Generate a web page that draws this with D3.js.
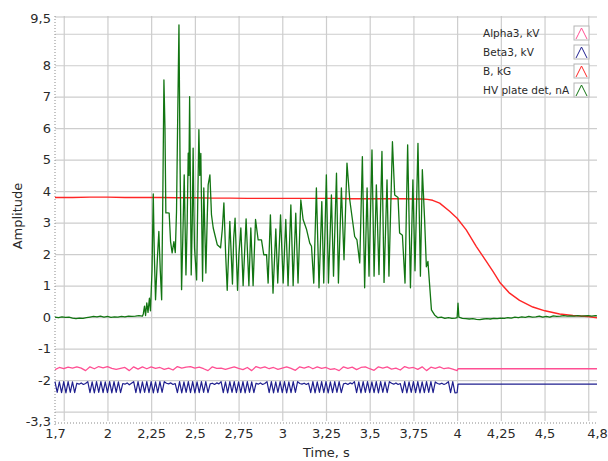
<!DOCTYPE html>
<html>
<head>
<meta charset="utf-8">
<script src="https://cdn.jsdelivr.net/npm/d3@7"></script>
<style>
  body { margin: 0; background: #fff; }
  text { font-family: "DejaVu Sans", Verdana, sans-serif; fill: #2a2a2a; }
</style>
</head>
<body>
<svg id="chart" width="608" height="461"></svg>
<script>

// axis labels and grid positions
const xTickLabels = [1.7, 2, 2.25, 2.5, 2.75, 3, 3.25, 3.5, 3.75, 4, 4.25, 4.5, 4.8];
const xGrid = [1.75, 2, 2.25, 2.5, 2.75, 3, 3.25, 3.5, 3.75, 4, 4.25, 4.5, 4.75];
const yTickLabels = [9.5, 8, 7, 6, 5, 4, 3, 2, 1, 0, -1, -2, -3.3];
const yGrid = [9, 8, 7, 6, 5, 4, 3, 2, 1, 0, -1, -2, -3];

const seriesNames = ['Alpha3, kV', 'Beta3, kV', 'B, kG', 'HV plate det, nA'];

// Alpha3, sampled every 0.025 s from 1.7 s to 4.0 s
const alphaStart = 1.7, alphaStep = 0.025;
const alphaVals = [
  -1.67,-1.60,-1.64,-1.59,-1.62,-1.58,-1.62,-1.70,-1.58,-1.64,
  -1.57,-1.61,-1.57,-1.63,-1.66,-1.63,-1.60,-1.70,-1.58,-1.65,
  -1.58,-1.64,-1.58,-1.63,-1.60,-1.66,-1.62,-1.68,-1.57,-1.62,
  -1.59,-1.57,-1.62,-1.59,-1.64,-1.70,-1.58,-1.63,-1.62,-1.66,
  -1.62,-1.58,-1.63,-1.67,-1.60,-1.70,-1.57,-1.62,-1.58,-1.64,
  -1.60,-1.66,-1.62,-1.58,-1.63,-1.69,-1.58,-1.62,-1.57,-1.64,
  -1.58,-1.63,-1.60,-1.66,-1.64,-1.70,-1.58,-1.63,-1.59,-1.67,
  -1.60,-1.58,-1.64,-1.69,-1.58,-1.62,-1.58,-1.65,-1.62,-1.68,
  -1.57,-1.62,-1.60,-1.66,-1.58,-1.70,-1.59,-1.63,-1.58,-1.64,
  -1.61,-1.65,-1.70
];
const alphaTail = [[4.005, -1.64], [4.8, -1.64]];

// Beta3, sampled every 0.0125 s from 1.7 s to 4.0 s
const betaStart = 1.7, betaStep = 0.0125;
const betaVals = [
  -2.05,-2.39,-2.06,-2.40,-2.05,-2.41,-2.05,-2.39,-2.06,-2.40,
  -2.10,-2.13,-2.09,-2.14,-2.11,
  -2.05,-2.40,-2.06,-2.41,-2.05,-2.39,-2.05,-2.40,-2.06,-2.40,-2.05,-2.41,-2.05,-2.39,-2.06,-2.40,
  -2.11,-2.13,-2.09,-2.15,-2.10,
  -2.05,-2.40,-2.05,-2.41,-2.06,-2.39,-2.05,-2.40,-2.05,-2.41,-2.06,-2.40,-2.05,-2.39,-2.05,
  -2.10,-2.12,-2.09,-2.14,-2.11,
  -2.40,-2.05,-2.41,-2.06,-2.39,-2.05,-2.40,-2.05,-2.41,-2.06,-2.40,-2.05,-2.39,-2.05,-2.40,
  -2.12,-2.10,-2.14,-2.09,-2.12,
  -2.05,-2.40,-2.06,-2.41,-2.05,-2.39,-2.05,-2.40,-2.06,-2.40,-2.05,-2.41,-2.05,-2.39,-2.06,-2.40,
  -2.10,-2.13,-2.09,-2.14,-2.11,
  -2.05,-2.40,-2.05,-2.41,-2.06,-2.39,-2.05,-2.40,-2.05,-2.41,-2.06,-2.40,-2.05,-2.39,-2.05,
  -2.11,-2.13,-2.10,-2.14,-2.10,
  -2.40,-2.05,-2.41,-2.06,-2.39,-2.05,-2.40,-2.05,-2.41,-2.06,-2.40,-2.05,-2.39,-2.05,-2.40,
  -2.12,-2.10,-2.14,-2.09,-2.12,
  -2.05,-2.40,-2.06,-2.41,-2.05,-2.39,-2.05,-2.40,-2.06,-2.40,-2.05,-2.41,-2.05,-2.39,-2.06,-2.40,-2.05,
  -2.10,-2.13,-2.09,-2.14,-2.11,
  -2.40,-2.05,-2.41,-2.06,-2.39,-2.05,-2.40,-2.05,-2.41,-2.06,-2.40,-2.05,-2.39,-2.05,-2.40,-2.06,
  -2.11,-2.13,-2.10,-2.14,-2.11,
  -2.05,-2.40,-2.05,-2.41,-2.40
];
const betaTail = [[4.005, -2.13], [4.8, -2.13]];

// B field [time, value]
const bPts = [
  [1.7,3.80],[1.8,3.80],[1.9,3.81],[2.0,3.81],[2.1,3.80],[2.2,3.80],[2.3,3.80],
  [2.4,3.79],[2.5,3.79],[2.6,3.78],[2.7,3.78],[2.8,3.77],[2.9,3.77],[3.0,3.77],
  [3.1,3.77],[3.2,3.77],[3.3,3.77],[3.4,3.76],[3.5,3.76],[3.6,3.76],[3.7,3.76],
  [3.75,3.75],[3.8,3.75],[3.83,3.74],[3.86,3.71],[3.9,3.62],[3.957,3.36],
  [4.0,3.14],[4.052,2.77],[4.11,2.24],[4.167,1.77],[4.205,1.45],[4.247,1.08],
  [4.3,0.76],[4.357,0.53],[4.433,0.32],[4.502,0.20],[4.586,0.10],[4.662,0.05],
  [4.748,0.02],[4.8,-0.02]
];

// HV plate detector current [time, value]
const hvPts = [
  [1.70,0.00],[1.72,-0.02],[1.74,0.01],[1.76,-0.01],[1.78,0.00],[1.80,-0.03],[1.82,-0.05],
  [1.84,-0.03],[1.86,-0.04],[1.88,-0.02],[1.90,0.00],[1.92,0.02],[1.94,0.01],[1.96,0.03],
  [1.98,0.00],[2.00,0.02],[2.02,-0.01],[2.04,0.01],[2.06,0.00],[2.08,0.02],[2.10,0.01],
  [2.12,0.03],[2.14,0.02],[2.16,0.03],[2.18,0.05],[2.20,0.03],
  [2.205,0.10],[2.212,0.35],[2.218,0.05],[2.225,0.45],[2.232,0.15],[2.24,0.60],[2.246,0.20],
  [2.255,1.50],[2.262,3.91],[2.268,2.00],[2.275,0.55],[2.285,1.80],[2.294,2.72],[2.302,1.50],
  [2.31,0.55],[2.317,4.00],[2.323,7.53],[2.329,6.00],[2.334,3.31],[2.345,3.31],[2.353,3.30],
  [2.361,2.40],[2.37,2.04],[2.38,2.40],[2.388,2.05],[2.395,3.35],[2.401,6.00],[2.409,9.28],
  [2.415,5.00],[2.424,0.87],[2.431,2.50],[2.439,4.52],[2.449,1.34],[2.456,3.00],[2.462,5.21],
  [2.466,4.50],[2.47,7.00],[2.475,4.00],[2.479,1.34],[2.485,3.00],[2.49,5.37],[2.494,3.50],
  [2.498,2.20],[2.51,1.18],[2.516,3.50],[2.523,5.95],[2.528,4.50],[2.534,5.20],[2.544,1.14],
  [2.551,4.10],[2.563,1.40],[2.57,3.00],[2.576,4.20],[2.586,4.52],[2.595,3.25],[2.605,2.83],
  [2.615,2.60],[2.628,2.30],[2.647,2.20],[2.657,2.80],[2.666,3.63],[2.676,2.00],[2.685,0.85],
  [2.70,3.04],[2.715,1.05],[2.722,2.50],[2.73,3.14],[2.744,0.85],[2.752,2.00],[2.763,2.83],
  [2.776,1.00],[2.793,3.12],[2.809,1.00],[2.82,2.83],[2.833,1.00],[2.847,3.10],[2.862,2.45],
  [2.881,2.45],[2.894,1.98],[2.91,1.98],[2.919,1.08],[2.932,3.25],[2.947,0.76],[2.963,2.80],
  [2.974,1.08],[2.99,3.25],[3.005,1.08],[3.02,3.10],[3.033,1.00],[3.049,3.56],[3.062,1.00],
  [3.077,3.30],[3.09,1.08],[3.106,3.72],[3.119,3.10],[3.138,2.80],[3.157,2.35],[3.167,2.25],
  [3.18,1.08],[3.195,4.10],[3.21,0.93],[3.226,3.67],[3.237,1.08],[3.252,4.52],[3.264,1.08],
  [3.281,3.88],[3.293,1.30],[3.31,4.57],[3.321,1.08],[3.338,4.10],[3.353,1.82],[3.37,4.89],
  [3.386,3.72],[3.414,2.56],[3.427,2.45],[3.443,1.72],[3.458,5.10],[3.471,0.93],[3.485,4.10],
  [3.496,1.30],[3.513,5.31],[3.525,1.30],[3.538,4.20],[3.553,1.35],[3.57,5.26],[3.582,1.10],
  [3.599,4.36],[3.61,1.30],[3.63,5.57],[3.643,3.88],[3.662,3.80],[3.671,2.67],[3.687,2.60],
  [3.702,1.08],[3.717,5.47],[3.733,0.93],[3.747,4.36],[3.759,1.47],[3.776,5.52],[3.79,1.30],
  [3.801,4.68],[3.814,3.09],[3.824,1.60],[3.833,1.77],[3.843,1.00],[3.853,0.23],[3.871,0.07],
  [3.89,-0.02],[3.91,0.00],[3.93,-0.04],[3.95,-0.02],[3.97,-0.04],[3.99,-0.03],[4.00,-0.02],
  [4.005,0.44],[4.01,0.00],[4.03,-0.04],[4.05,-0.05],[4.07,-0.06],[4.09,-0.05],[4.11,-0.07],
  [4.13,-0.08],[4.15,-0.06],[4.17,-0.05],[4.19,-0.06],[4.21,-0.04],[4.23,-0.05],[4.25,-0.03],
  [4.27,-0.04],[4.29,-0.02],[4.31,-0.03],[4.33,0.00],[4.35,-0.02],[4.37,0.01],[4.39,-0.01],
  [4.41,0.02],[4.43,0.00],[4.45,0.01],[4.47,0.03],[4.49,0.00],[4.51,0.02],[4.53,0.00],
  [4.55,0.04],[4.57,0.02],[4.59,0.03],[4.61,0.05],[4.63,0.03],[4.65,0.04],[4.67,0.03],
  [4.69,0.05],[4.71,0.03],[4.73,0.04],[4.75,0.05],[4.77,0.03],[4.79,0.05],[4.80,0.04]
];

const colors = ['#ff4f93', '#1f1f8f', '#ff2626', '#127512'];

const plot = {left: 55, right: 597, top: 18, bottom: 421};

const svg = d3.select('#chart');
svg.append('rect').attr('width', 608).attr('height', 461).attr('fill', '#fff');

const x = d3.scaleLinear().domain([1.7, 4.8]).range([plot.left, plot.right]);
const y = d3.scaleLinear().domain([-3.3, 9.5]).range([plot.bottom, plot.top]);

function commaFmt(d) { return String(d).replace('.', ','); }

// grid
svg.append('g')
    .attr('transform', 'translate(' + plot.left + ',0)')
    .call(d3.axisLeft(y).tickValues(yGrid).tickSize(-(plot.right - plot.left)).tickFormat(''))
    .call(g => g.select('.domain').remove())
    .selectAll('line').attr('stroke', '#cdcdcd').attr('stroke-width', 1.2);

svg.append('g')
    .attr('transform', 'translate(0,' + plot.bottom + ')')
    .call(d3.axisBottom(x).tickValues(xGrid).tickSize(-(plot.bottom - plot.top + 2)).tickFormat(''))
    .call(g => g.select('.domain').remove())
    .selectAll('line').attr('stroke', '#cdcdcd').attr('stroke-width', 1.2);

// top frame line
svg.append('line')
    .attr('x1', plot.left).attr('x2', plot.right)
    .attr('y1', y(9.5) - 1).attr('y2', y(9.5) - 1)
    .attr('stroke', '#c4c4c4').attr('stroke-width', 1.2);

// dotted axis lines
svg.append('line')
    .attr('x1', plot.left).attr('x2', plot.left)
    .attr('y1', plot.top - 2).attr('y2', plot.bottom + 6)
    .attr('stroke', '#8a8a8a').attr('stroke-dasharray', '1,2');
svg.append('line')
    .attr('x1', plot.left).attr('x2', plot.right)
    .attr('y1', plot.bottom + 2).attr('y2', plot.bottom + 2)
    .attr('stroke', '#8a8a8a').attr('stroke-dasharray', '1,2');

// tick labels
svg.append('g')
    .attr('transform', 'translate(' + (plot.left - 4) + ',0)')
    .call(d3.axisLeft(y).tickValues(yTickLabels).tickSize(0).tickPadding(0).tickFormat(commaFmt))
    .call(g => g.select('.domain').remove())
    .selectAll('text')
    .style('font-family', '"DejaVu Sans", Verdana, sans-serif')
    .style('font-size', '13px').attr('fill', '#2a2a2a');

svg.append('g')
    .attr('transform', 'translate(0,' + (plot.bottom + 5) + ')')
    .call(d3.axisBottom(x).tickValues(xTickLabels).tickSize(0).tickPadding(3).tickFormat(commaFmt))
    .call(g => g.select('.domain').remove())
    .selectAll('text')
    .style('font-family', '"DejaVu Sans", Verdana, sans-serif')
    .style('font-size', '13px').attr('fill', '#2a2a2a');

// axis titles
svg.append('text')
    .attr('transform', 'translate(22,216) rotate(-90)')
    .attr('text-anchor', 'middle')
    .style('font-size', '13px')
    .text('Amplitude');
svg.append('text')
    .attr('x', 303).attr('y', 457)
    .style('font-size', '13px')
    .text('Time, s');

// series
const line = d3.line().x(d => x(d[0])).y(d => y(d[1]));

const alphaPts = alphaVals.map((v, i) => [alphaStart + i * alphaStep, v]).concat(alphaTail);
const betaPts = betaVals.map((v, i) => [betaStart + i * betaStep, v]).concat(betaTail);

const series = [
    {pts: alphaPts, w: 1.3},
    {pts: betaPts, w: 1.2},
    {pts: bPts, w: 1.4},
    {pts: hvPts, w: 1.3}
];

svg.append('g').selectAll('path')
    .data(series)
    .enter().append('path')
    .attr('d', d => line(d.pts))
    .attr('fill', 'none')
    .attr('stroke', (d, i) => colors[i])
    .attr('stroke-width', d => d.w)
    .attr('stroke-linejoin', 'round');

// legend
const legend = svg.append('g').attr('transform', 'translate(483,33)');
const rows = legend.selectAll('g')
    .data(seriesNames)
    .enter().append('g')
    .attr('transform', (d, i) => 'translate(0,' + (i * 19) + ')');

rows.append('text')
    .attr('y', 4)
    .style('font-size', '10.5px')
    .text(d => d);

rows.append('rect')
    .attr('x', 91).attr('y', -7)
    .attr('width', 15).attr('height', 14)
    .attr('fill', '#fff')
    .attr('stroke', '#b5b5b5').attr('stroke-width', 1);

rows.append('path')
    .attr('d', 'M93,6 L98.5,-5 L104,6')
    .attr('fill', 'none')
    .attr('stroke', (d, i) => colors[i])
    .attr('stroke-width', 1);

</script>
</body>
</html>
